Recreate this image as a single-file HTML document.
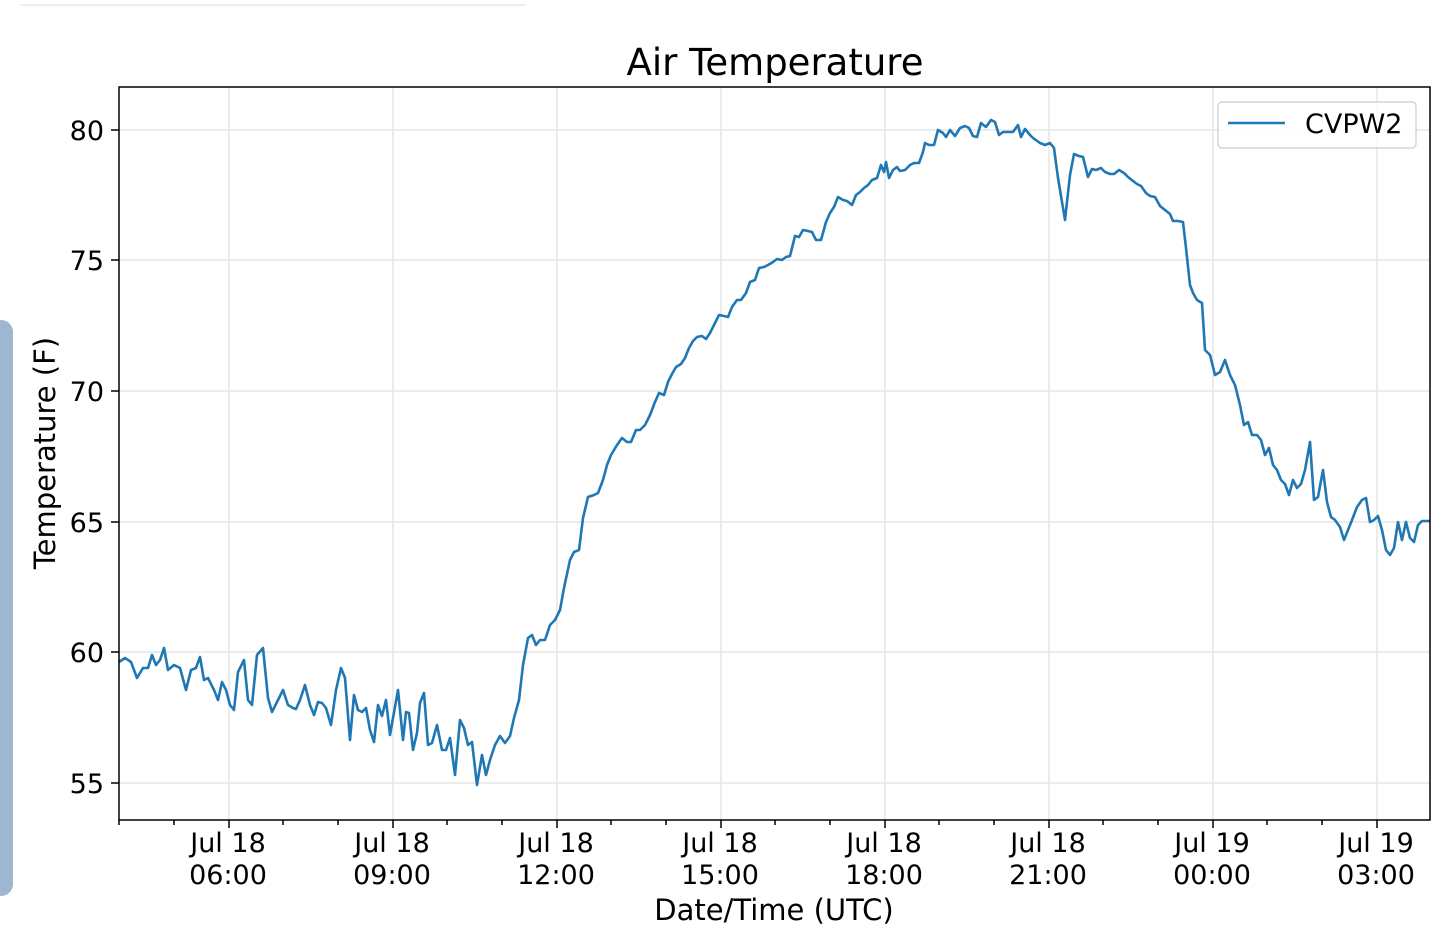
<!DOCTYPE html>
<html><head><meta charset="utf-8"><style>
html,body{margin:0;padding:0;background:#fff;width:1440px;height:947px;overflow:hidden}
svg text{font-family:"DejaVu Sans","Liberation Sans",sans-serif;fill:#000}
</style></head><body>
<svg width="1440" height="947" xmlns="http://www.w3.org/2000/svg">
<line x1="20" y1="5" x2="525" y2="5" stroke="#eee" stroke-width="2"/>
<rect x="-20" y="320" width="33" height="576" rx="12" fill="#9db6d1"/>
<g stroke="#e6e6e6" stroke-width="1.5">
<line x1="229" y1="87" x2="229" y2="820"/><line x1="393" y1="87" x2="393" y2="820"/>
<line x1="557" y1="87" x2="557" y2="820"/><line x1="721" y1="87" x2="721" y2="820"/>
<line x1="885" y1="87" x2="885" y2="820"/><line x1="1049" y1="87" x2="1049" y2="820"/>
<line x1="1213" y1="87" x2="1213" y2="820"/><line x1="1377" y1="87" x2="1377" y2="820"/>
<line x1="119" y1="130" x2="1430" y2="130"/><line x1="119" y1="260" x2="1430" y2="260"/>
<line x1="119" y1="391" x2="1430" y2="391"/><line x1="119" y1="522" x2="1430" y2="522"/>
<line x1="119" y1="652" x2="1430" y2="652"/><line x1="119" y1="783" x2="1430" y2="783"/>
</g>
<polyline fill="none" stroke="#1f77b4" stroke-width="2.6" stroke-linejoin="round" points="119,662 125,658 131,662 137,678 143,668 148,668 152,655 156,665 160,660 164,648 168,670 174,665 180,668 186,690 191,670 196,668 200,657 204,680 208,678 214,690 218,700 222,682 226,690 230,705 234,710 238,672 244,660 248,700 252,705 257,655 263,648 268,698 272,712 278,700 283,690 288,705 293,708 296,709 300,700 305,685 310,705 314,715 318,702 322,703 326,708 331,725 336,690 341,668 345,678 350,740 354,695 358,710 362,712 366,708 370,730 374,742 378,705 382,716 386,700 390,735 393,718 398,690 403,740 406,712 409,713 413,750 417,733 420,703 424,693 428,745 432,743 437,725 442,750 446,750 450,738 455,775 460,720 464,728 468,745 472,742 477,785 482,755 486,775 490,760 495,745 500,736 505,743 510,736 514,718 519,700 523,665 528,638 532,635 536,645 540,640 545,640 550,625 555,620 560,610 564,588 570,560 574,552 579,550 583,518 588,497 594,495 598,493 603,480 607,465 611,455 617,445 622,438 627,442 631,442 636,430 640,430 645,425 650,415 655,402 659,393 664,395 668,382 672,374 676,367 681,364 685,358 689,348 693,341 697,337 702,336 706,339 710,333 715,323 719,315 724,316 728,317 732,307 737,300 741,300 746,293 750,282 755,280 759,268 764,267 768,265 773,262 777,259 782,260 786,257 790,256 795,236 799,237 803,230 808,231 812,232 816,240 821,240 826,222 830,213 834,207 838,197 843,200 847,201 852,205 856,195 860,192 864,188 868,185 872,180 877,178 881,165 884,172 886,162 889,178 893,170 897,167 900,171 905,170 910,165 914,163 919,163 923,152 925,143 929,145 934,145 938,130 943,133 946,137 950,130 955,136 960,128 965,126 969,128 973,136 977,137 981,123 986,127 991,120 995,122 999,135 1003,132 1008,132 1013,132 1018,125 1021,137 1025,129 1030,135 1033,138 1040,143 1045,145 1050,143 1054,148 1058,178 1065,220 1070,175 1074,154 1079,156 1083,157 1088,177 1092,169 1096,170 1101,168 1105,172 1110,174 1114,174 1119,170 1124,173 1128,177 1133,181 1137,184 1141,186 1146,193 1150,196 1155,197 1160,206 1165,210 1170,214 1173,221 1178,221 1183,222 1186,248 1190,285 1193,293 1197,300 1202,303 1205,350 1210,355 1215,375 1220,372 1225,360 1230,375 1235,385 1240,405 1244,425 1248,422 1252,435 1257,435 1261,440 1265,455 1269,448 1273,465 1277,470 1281,480 1285,484 1289,495 1293,480 1297,488 1301,484 1305,470 1310,442 1314,500 1318,497 1323,470 1327,502 1331,517 1335,520 1340,527 1344,540 1348,530 1352,520 1357,507 1362,500 1366,498 1370,522 1374,520 1378,516 1382,530 1386,550 1390,555 1394,548 1398,522 1402,540 1406,522 1410,538 1414,542 1418,525 1422,521 1430,521"/>
<rect x="119" y="87" width="1311" height="733" fill="none" stroke="#000" stroke-width="1.5"/>
<g stroke="#000" stroke-width="1.5">
<line x1="229" y1="820" x2="229" y2="828"/><line x1="393" y1="820" x2="393" y2="828"/><line x1="557" y1="820" x2="557" y2="828"/><line x1="721" y1="820" x2="721" y2="828"/><line x1="885" y1="820" x2="885" y2="828"/><line x1="1049" y1="820" x2="1049" y2="828"/><line x1="1213" y1="820" x2="1213" y2="828"/><line x1="1377" y1="820" x2="1377" y2="828"/>
<line x1="119" y1="820" x2="119" y2="825"/><line x1="174" y1="820" x2="174" y2="825"/><line x1="283" y1="820" x2="283" y2="825"/><line x1="338" y1="820" x2="338" y2="825"/><line x1="447" y1="820" x2="447" y2="825"/><line x1="502" y1="820" x2="502" y2="825"/><line x1="611" y1="820" x2="611" y2="825"/><line x1="666" y1="820" x2="666" y2="825"/><line x1="775" y1="820" x2="775" y2="825"/><line x1="830" y1="820" x2="830" y2="825"/><line x1="939" y1="820" x2="939" y2="825"/><line x1="994" y1="820" x2="994" y2="825"/><line x1="1103" y1="820" x2="1103" y2="825"/><line x1="1158" y1="820" x2="1158" y2="825"/><line x1="1267" y1="820" x2="1267" y2="825"/><line x1="1322" y1="820" x2="1322" y2="825"/>
<line x1="111" y1="130" x2="119" y2="130"/><line x1="111" y1="260" x2="119" y2="260"/><line x1="111" y1="391" x2="119" y2="391"/><line x1="111" y1="522" x2="119" y2="522"/><line x1="111" y1="652" x2="119" y2="652"/><line x1="111" y1="783" x2="119" y2="783"/>
</g>
<g font-size="27" text-anchor="end">
<text x="104" y="140">80</text><text x="104" y="270">75</text><text x="104" y="401">70</text><text x="104" y="532">65</text><text x="104" y="662">60</text><text x="104" y="793">55</text>
</g>
<g font-size="27" text-anchor="middle">
<text x="228" y="852">Jul 18</text><text x="228" y="884">06:00</text>
<text x="392" y="852">Jul 18</text><text x="392" y="884">09:00</text>
<text x="556" y="852">Jul 18</text><text x="556" y="884">12:00</text>
<text x="720" y="852">Jul 18</text><text x="720" y="884">15:00</text>
<text x="884" y="852">Jul 18</text><text x="884" y="884">18:00</text>
<text x="1048" y="852">Jul 18</text><text x="1048" y="884">21:00</text>
<text x="1212" y="852">Jul 19</text><text x="1212" y="884">00:00</text>
<text x="1376" y="852">Jul 19</text><text x="1376" y="884">03:00</text>
<text x="774" y="920" font-size="29">Date/Time (UTC)</text>
<text x="775" y="75" font-size="37">Air Temperature</text>
<text transform="translate(55,453) rotate(-90)" font-size="29">Temperature (F)</text>
</g>
<rect x="1218" y="102" width="198" height="46" rx="4" fill="#fff" fill-opacity="0.8" stroke="#ccc" stroke-width="1.2"/>
<line x1="1228" y1="123" x2="1285" y2="123" stroke="#1f77b4" stroke-width="2.6"/>
<text x="1305" y="133" font-size="27">CVPW2</text>
</svg>
</body></html>
